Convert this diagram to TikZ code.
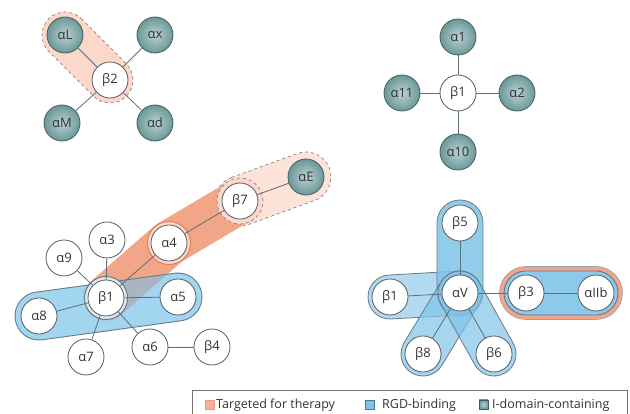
\documentclass[tikz,border=0pt]{standalone}
\usepackage{fontspec}
\setmainfont{Open Sans}
\usetikzlibrary{calc}
\pgfdeclarelayer{caps}
\pgfdeclarelayer{edges}
\pgfsetlayers{caps,edges,main}
\definecolor{edgec}{HTML}{5B6F79}
\definecolor{nodeline}{HTML}{555B60}
\definecolor{tealline}{HTML}{435E60}
\definecolor{tealin}{HTML}{B8D2D1}
\definecolor{tealout}{HTML}{6C9898}
\definecolor{txtc}{HTML}{333333}
\definecolor{orDark}{HTML}{F2A587}
\definecolor{orLight}{HTML}{FBD8CA}
\definecolor{orPale}{HTML}{FDE3D8}
\definecolor{orRing}{HTML}{E3805F}
\definecolor{blueA}{HTML}{A2D5F0}
\definecolor{blueB}{HTML}{7FC3E8}
\definecolor{capline}{HTML}{687A87}
\definecolor{overlap}{HTML}{A9B6C0}
\definecolor{dashc}{HTML}{858585}
\newcommand\capsulepath[4]{\path[#1] let \p1=($(#3.center)-(#2.center)$), \n1={atan2(\y1,\x1)} in ($(#2.center)+(\n1+90:#4)$) -- ($(#3.center)+(\n1+90:#4)$) arc[start angle=\n1+90, delta angle=-180, radius=#4] -- ($(#2.center)+(\n1-90:#4)$) arc[start angle=\n1-90, delta angle=-180, radius=#4] -- cycle;}
\tikzset{
 wn/.style={circle, draw=nodeline, line width=0.8pt, fill=white, minimum size=36pt, inner sep=0pt, font=\fontsize{13}{15}\selectfont, text=txtc},
 tn/.style={circle, draw=tealline, line width=0.8pt, inner color=tealin, outer color=tealout, minimum size=36pt, inner sep=0pt, font=\fontsize{13}{15}\selectfont, text=txtc},
 conn/.style={draw=edgec, line width=0.8pt},
 legtext/.style={anchor=west, inner sep=0pt, font=\fontsize{12.5}{14}\selectfont, text=txtc},
}
\begin{document}
\begin{tikzpicture}[x=1pt,y=1pt]
\useasboundingbox (0,0) rectangle (630,414);
% ---- nodes: top-left
\node[tn] (aL) at (65,379) {αL};
\node[tn] (ax) at (155,379) {αx};
\node[wn] (b2) at (110,334) {β2};
\node[tn] (aM) at (62,291) {αM};
\node[tn] (ad) at (155,291) {αd};
% ---- top-right
\node[tn] (a1) at (458,377) {α1};
\node[wn] (tb1) at (458,321) {β1};
\node[tn] (a11) at (402,321) {α11};
\node[tn] (a2) at (517,321) {α2};
\node[tn] (a10) at (458,262) {α10};
% ---- bottom-left
\node[tn] (aE) at (306,237) {αE};
\node[wn] (b7) at (240,213) {β7};
\node[wn] (a4) at (169,171) {α4};
\node[wn] (a3) at (107,174) {α3};
\node[wn] (a9) at (64,156) {α9};
\node[wn] (b1) at (106,116) {β1};
\node[wn] (a5) at (178,117) {α5};
\node[wn] (a8) at (39,98) {α8};
\node[wn] (a7) at (86,57) {α7};
\node[wn] (a6) at (150,67) {α6};
\node[wn] (b4) at (212,67) {β4};
% ---- bottom-right
\node[wn] (b5) at (460,191) {β5};
\node[wn] (aV) at (460,121) {αV};
\node[wn] (rb1) at (390,117) {β1};
\node[wn] (b3) at (526,121) {β3};
\node[wn] (aIIb) at (596,121) {αIIb};
\node[wn] (b8) at (423,60) {β8};
\node[wn] (b6) at (494,60) {β6};

\begin{pgfonlayer}{caps}
 % top-left dashed capsule
 \capsulepath{fill=orLight, draw=dashc, dashed, line width=0.7pt}{aL}{b2}{23pt}
 % beta7 - alphaE dashed capsule
 \capsulepath{fill=orPale, draw=dashc, dashed, line width=0.7pt}{b7}{aE}{25pt}
 % dark band
 \draw[orDark, line width=45pt, line cap=round, line join=round] (b1.center) -- (a4.center) -- (b7.center);
 % blue capsule a8-a5
 \capsulepath{fill=blueA}{a8}{a5}{24pt}
 \begin{scope}
  \capsulepath{clip}{a8}{a5}{24pt}
  \draw[overlap, line width=45pt, line cap=round, line join=round] (b1.center) -- (a4.center) -- (b7.center);
 \end{scope}
 \capsulepath{draw=capline, line width=0.9pt}{a8}{a5}{24pt}
 % rings
 \draw[fill=white!70!overlap, draw=capline, line width=1pt] (b1.center) circle[radius=21.5pt];
 \draw[fill=orLight, draw=orRing, line width=1.1pt] (a4.center) circle[radius=21.5pt];
 \draw[fill=orLight, draw=dashc, dashed, line width=0.7pt] (b7.center) circle[radius=23pt];
 % bottom-right capsules
 \capsulepath{fill=blueB, fill opacity=0.6, draw=capline, line width=0.8pt}{rb1}{aV}{22pt}
 \capsulepath{fill=blueB, fill opacity=0.85, draw=capline, line width=0.8pt}{aV}{b5}{23pt}
 \capsulepath{fill=blueB, fill opacity=0.7, draw=capline, line width=0.8pt}{aV}{b8}{22pt}
 \capsulepath{fill=blueB, fill opacity=0.7, draw=capline, line width=0.8pt}{aV}{b6}{22pt}
 % b3 - aIIb capsule with orange rim
 \capsulepath{fill=orDark, draw=capline!70, line width=0.6pt}{b3}{aIIb}{26.5pt}
 \capsulepath{fill=blueB!90!white, draw=capline, line width=0.9pt}{b3}{aIIb}{22pt}
\end{pgfonlayer}

\begin{pgfonlayer}{edges}
 \draw[conn] (b2) -- (aL);
 \draw[conn] (b2) -- (ax);
 \draw[conn] (b2) -- (aM);
 \draw[conn] (b2) -- (ad);
 \draw[conn] (tb1) -- (a1);
 \draw[conn] (tb1) -- (a2);
 \draw[conn] (tb1) -- (a10);
 \draw[conn] (tb1) -- (a11);
 \draw[conn] (b1) -- (a3);
 \draw[conn] (b1) -- (a9);
 \draw[conn] (b1) -- (a8);
 \draw[conn] (b1) -- (a7);
 \draw[conn] (b1) -- (a6);
 \draw[conn] (b1) -- (a5);
 \draw[conn] (b1) -- (a4);
 \draw[conn] (a4) -- (b7);
 \draw[conn] (b7) -- (aE);
 \draw[conn] (a6) -- (b4);
 \draw[conn] (aV) -- (b5);
 \draw[conn] (aV) -- (rb1);
 \draw[conn] (aV) -- (b8);
 \draw[conn] (aV) -- (b6);
 \draw[conn] (aV) -- (b3);
 \draw[conn] (b3) -- (aIIb);
\end{pgfonlayer}

% ---- legend
\draw[draw=black!55, line width=0.8pt, fill=white] (192,-5) rectangle (627,24);
\node[draw=orRing!80, fill=orDark!85!white, line width=0.5pt, minimum size=9pt, inner sep=0pt] (lg1) at (209.5,9.5) {};
\node[legtext] (lt1) at (216,9) {Targeted for therapy};
\node[draw=blueB!60!black, fill=blueB, line width=0.5pt, minimum size=9pt, inner sep=0pt] (lg2) at (370,9.5) {};
\node[legtext] (lt2) at (382,9) {RGD-binding};
\node[draw=tealline, inner color=tealin, outer color=tealout, line width=0.5pt, minimum size=9pt, inner sep=0pt] (lg3) at (483.5,9.5) {};
\node[legtext] (lt3) at (492,9) {I-domain-containing};
\end{tikzpicture}
\end{document}
